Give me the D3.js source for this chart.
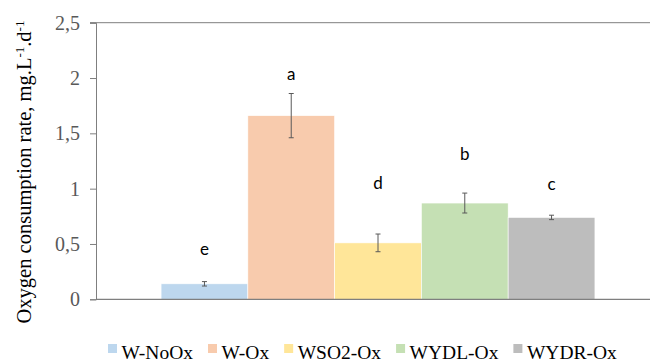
<!DOCTYPE html>
<html>
<head>
<meta charset="utf-8">
<script src="https://cdn.jsdelivr.net/npm/d3@7"></script>
<style>
  body { margin: 0; background: #fff; }
  svg { display: block; }
</style>
</head>
<body>
<div id="chart"></div>
<script>
// data
var series = ["W-NoOx", "W-Ox", "WSO2-Ox", "WYDL-Ox", "WYDR-Ox"];
var values = [0.14, 1.66, 0.51, 0.87, 0.74];
var errors = [0.02, 0.20, 0.08, 0.09, 0.02];
var letters = ["e", "a", "d", "b", "c"];
var letterAt = [0.45, 2.03, 1.05, 1.31, 1.04];
var colors = ["#BDD7EE", "#F8CBAD", "#FFE699", "#C5E0B4", "#BDBDBD"];
var yTicks = [0, 0.5, 1, 1.5, 2, 2.5];

var width = 650, height = 360;
var plotLeft = 96, plotRight = 660, plotTop = 22.7, plotBottom = 299.3;

var svg = d3.select("#chart").append("svg")
    .attr("width", width)
    .attr("height", height);

var y = d3.scaleLinear().domain([0, 2.5]).range([plotBottom, plotTop]);
// one category, five series, excel-like gap width 150%
var x = d3.scaleBand().domain(series)
    .range([plotLeft, plotRight])
    .paddingInner(0)
    .paddingOuter(0.75);

var fmt = function(d) { return String(d).replace(".", ","); };

// top border line
svg.append("line")
    .attr("x1", plotLeft - 6).attr("x2", width)
    .attr("y1", y(2.5)).attr("y2", y(2.5))
    .attr("stroke", "#7f7f7f").attr("stroke-width", 1);

// y axis
var yAxis = svg.append("g")
    .attr("transform", "translate(" + plotLeft + ",0)")
    .call(d3.axisLeft(y).tickValues(yTicks).tickFormat(fmt).tickSize(6).tickPadding(10));
yAxis.select(".domain").attr("stroke", "#7f7f7f");
yAxis.selectAll(".tick line").attr("stroke", "#7f7f7f");
yAxis.selectAll("text")
    .attr("font-family", "'Liberation Serif', 'Times New Roman', serif")
    .attr("font-size", 20)
    .attr("fill", "#595959");

// bars
svg.selectAll(".bar")
    .data(values)
    .enter().append("rect")
    .attr("class", "bar")
    .attr("x", function(d, i) { return x(series[i]); })
    .attr("width", x.bandwidth())
    .attr("y", function(d) { return y(d); })
    .attr("height", function(d) { return y(0) - y(d); })
    .attr("fill", function(d, i) { return colors[i]; })
    .attr("stroke", "#ffffff")
    .attr("stroke-width", 0.6);

// x axis line
svg.append("line")
    .attr("x1", plotLeft).attr("x2", width)
    .attr("y1", y(0)).attr("y2", y(0))
    .attr("stroke", "#7f7f7f").attr("stroke-width", 1.2);

// error bars
var eb = svg.selectAll(".err")
    .data(values)
    .enter().append("g")
    .attr("class", "err")
    .attr("stroke", "#595959")
    .attr("stroke-width", 1);
eb.append("line")
    .attr("x1", function(d, i) { return x(series[i]) + x.bandwidth() / 2; })
    .attr("x2", function(d, i) { return x(series[i]) + x.bandwidth() / 2; })
    .attr("y1", function(d, i) { return y(d + errors[i]); })
    .attr("y2", function(d, i) { return y(d - errors[i]); });
[1, -1].forEach(function(s) {
    eb.append("line")
        .attr("x1", function(d, i) { return x(series[i]) + x.bandwidth() / 2 - 2.5; })
        .attr("x2", function(d, i) { return x(series[i]) + x.bandwidth() / 2 + 2.5; })
        .attr("y1", function(d, i) { return y(d + s * errors[i]); })
        .attr("y2", function(d, i) { return y(d + s * errors[i]); });
});

// significance letters
svg.selectAll(".letter")
    .data(letters)
    .enter().append("text")
    .attr("class", "letter")
    .attr("x", function(d, i) { return x(series[i]) + x.bandwidth() / 2; })
    .attr("y", function(d, i) { return y(letterAt[i]); })
    .attr("dy", "0.32em")
    .attr("text-anchor", "middle")
    .attr("font-family", "Lato, 'Open Sans', sans-serif")
    .attr("font-size", 17)
    .attr("fill", "#000")
    .text(function(d) { return d; });

// y axis title
var title = svg.append("text")
    .attr("transform", "translate(31,172) rotate(-90)")
    .attr("text-anchor", "middle")
    .attr("font-family", "'Liberation Serif', 'Times New Roman', serif")
    .attr("font-size", 20.5)
    .attr("fill", "#000");
title.append("tspan").text("Oxygen consumption rate, mg.L");
title.append("tspan").attr("font-size", 13).attr("dy", -7).text("-1");
title.append("tspan").attr("dy", 7).text(".d");
title.append("tspan").attr("font-size", 13).attr("dy", -7).text("-1");

// legend
var legend = svg.append("g");
var lx = 108;
series.forEach(function(s, i) {
    legend.append("rect")
        .attr("x", lx).attr("y", 344)
        .attr("width", 9).attr("height", 9)
        .attr("fill", colors[i]);
    var t = legend.append("text")
        .attr("x", lx + 13.5).attr("y", 359)
        .attr("font-family", "'Liberation Serif', 'Times New Roman', serif")
        .attr("font-size", 19.5)
        .attr("fill", "#000")
        .text(s);
    lx += 13.5 + t.node().getComputedTextLength() + 15;
});
</script>
</body>
</html>
